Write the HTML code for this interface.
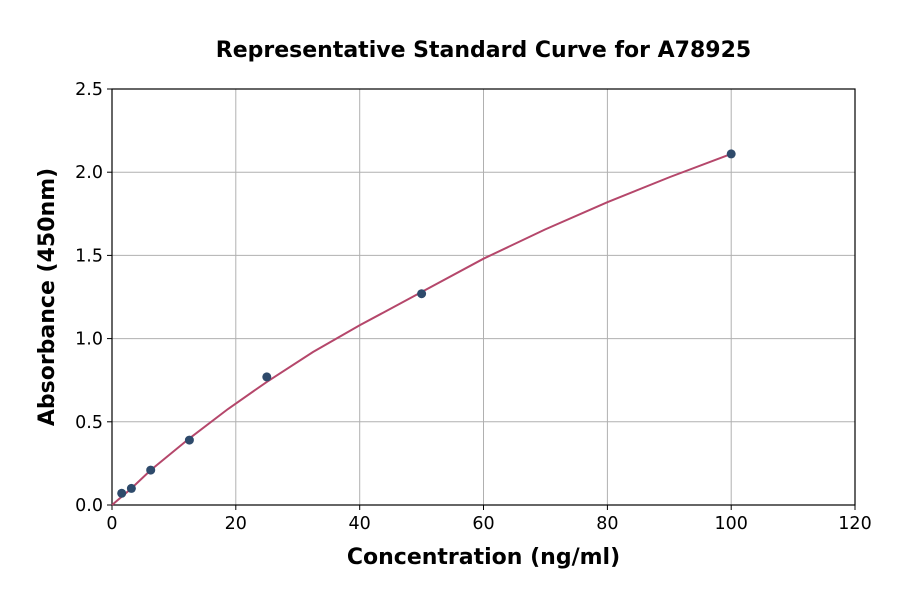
<!DOCTYPE html>
<html><head><style>body{margin:0;background:#fff}svg{display:block}</style></head><body>
<svg width="900" height="594" xmlns="http://www.w3.org/2000/svg" font-family="'DejaVu Sans','Liberation Sans',sans-serif">
<rect width="900" height="594" fill="#fff"/>
<g stroke="#b0b0b0" stroke-width="1">
<line x1="235.8" y1="89" x2="235.8" y2="505"/><line x1="359.7" y1="89" x2="359.7" y2="505"/><line x1="483.5" y1="89" x2="483.5" y2="505"/><line x1="607.4" y1="89" x2="607.4" y2="505"/><line x1="731.2" y1="89" x2="731.2" y2="505"/>
<line x1="112" y1="421.8" x2="855" y2="421.8"/><line x1="112" y1="338.6" x2="855" y2="338.6"/><line x1="112" y1="255.4" x2="855" y2="255.4"/><line x1="112" y1="172.2" x2="855" y2="172.2"/>
</g>
<rect x="112" y="89" width="743" height="416" fill="none" stroke="#000" stroke-width="1.2"/>
<g stroke="#000">
<line x1="112" y1="505" x2="112" y2="510"/><line x1="235.8" y1="505" x2="235.8" y2="510"/><line x1="359.7" y1="505" x2="359.7" y2="510"/><line x1="483.5" y1="505" x2="483.5" y2="510"/><line x1="607.4" y1="505" x2="607.4" y2="510"/><line x1="731.2" y1="505" x2="731.2" y2="510"/><line x1="855" y1="505" x2="855" y2="510"/>
<line x1="107" y1="505" x2="112" y2="505"/><line x1="107" y1="421.8" x2="112" y2="421.8"/><line x1="107" y1="338.6" x2="112" y2="338.6"/><line x1="107" y1="255.4" x2="112" y2="255.4"/><line x1="107" y1="172.2" x2="112" y2="172.2"/><line x1="107" y1="89" x2="112" y2="89"/>
</g>
<g font-size="17.5" text-anchor="middle">
<text x="112" y="529">0</text><text x="235.8" y="529">20</text><text x="359.7" y="529">40</text><text x="483.5" y="529">60</text><text x="607.4" y="529">80</text><text x="731.2" y="529">100</text><text x="855" y="529">120</text>
</g>
<g font-size="17.5" text-anchor="end">
<text x="103" y="511">0.0</text><text x="103" y="427.8">0.5</text><text x="103" y="344.6">1.0</text><text x="103" y="261.4">1.5</text><text x="103" y="178.2">2.0</text><text x="103" y="95">2.5</text>
</g>
<text x="483.5" y="57" font-size="22" font-weight="bold" text-anchor="middle">Representative Standard Curve for A78925</text>
<text x="483.5" y="564" font-size="22" font-weight="bold" text-anchor="middle">Concentration (ng/ml)</text>
<text transform="translate(54,297) rotate(-90)" font-size="22" font-weight="bold" text-anchor="middle">Absorbance (450nm)</text>
<polyline fill="none" stroke="#b5476b" stroke-width="2" points="112,505 131.4,488.4 150.7,470.1 189.4,438.4 228,409 266.8,381.9 313,352 359.7,325.3 421.6,292 483.5,258.7 545,229.5 607.4,202.2 670,177 731.2,153.9"/>
<g fill="#2e4a6b">
<circle cx="121.7" cy="493.3" r="4.5"/><circle cx="131.4" cy="488.4" r="4.5"/><circle cx="150.7" cy="470.1" r="4.5"/><circle cx="189.4" cy="440.1" r="4.5"/><circle cx="266.8" cy="376.9" r="4.5"/><circle cx="421.6" cy="293.7" r="4.5"/><circle cx="731.2" cy="153.9" r="4.5"/>
</g>
</svg>
</body></html>
